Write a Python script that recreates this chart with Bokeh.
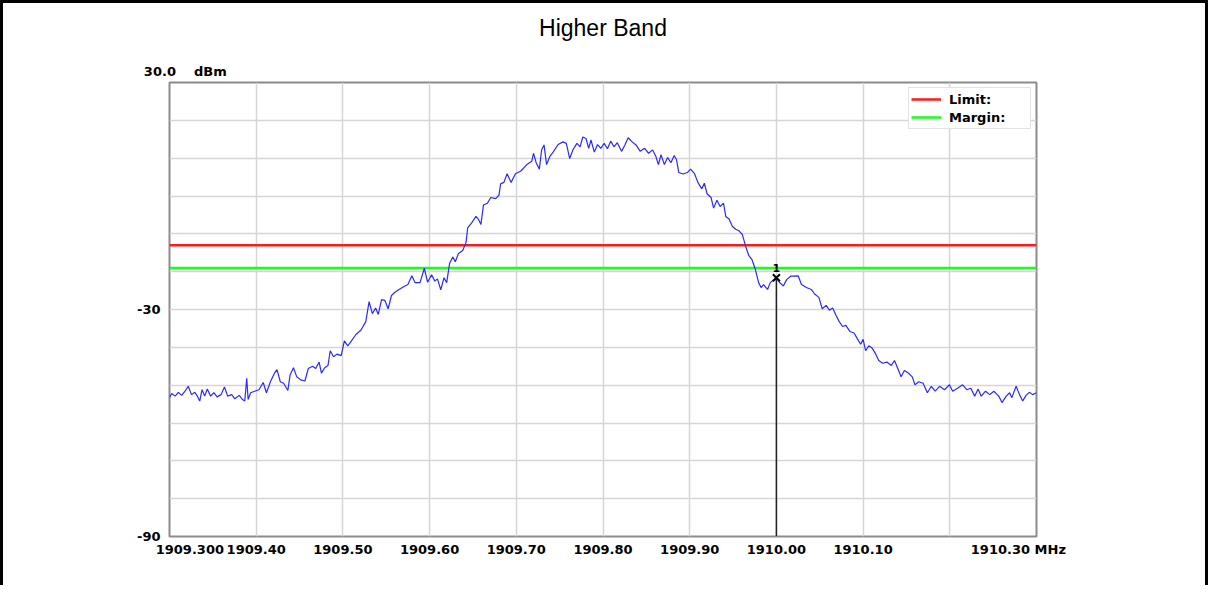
from bokeh.plotting import figure
from bokeh.models import FixedTicker, Legend, LegendItem, Range1d, LinearAxis
from bokeh.embed import file_html
from bokeh.resources import INLINE
from bokeh.core.properties import value

# ---------------- data ----------------
title_text = "Higher Band"

freq_mhz = [
    1909.3000, 1909.3026, 1909.3065, 1909.3102, 1909.3140, 1909.3179, 1909.3216, 1909.3254,
    1909.3292, 1909.3322, 1909.3349, 1909.3375, 1909.3406, 1909.3436, 1909.3474, 1909.3512,
    1909.3549, 1909.3595, 1909.3634, 1909.3671, 1909.3717, 1909.3754, 1909.3804, 1909.3842,
    1909.3868, 1909.3891, 1909.3907, 1909.3936, 1909.3982, 1909.4032, 1909.4081, 1909.4118,
    1909.4164, 1909.4209, 1909.4240, 1909.4278, 1909.4316, 1909.4365, 1909.4391, 1909.4430,
    1909.4468, 1909.4513, 1909.4562, 1909.4601, 1909.4650, 1909.4687, 1909.4726, 1909.4752,
    1909.4790, 1909.4828, 1909.4854, 1909.4892, 1909.4931, 1909.4980, 1909.5017, 1909.5056,
    1909.5093, 1909.5150, 1909.5207, 1909.5264, 1909.5302, 1909.5340, 1909.5378, 1909.5408,
    1909.5446, 1909.5484, 1909.5522, 1909.5560, 1909.5597, 1909.5643, 1909.5700, 1909.5750,
    1909.5795, 1909.5833, 1909.5890, 1909.5939, 1909.5977, 1909.6023, 1909.6060, 1909.6091,
    1909.6129, 1909.6166, 1909.6197, 1909.6231, 1909.6268, 1909.6296, 1909.6333, 1909.6382,
    1909.6421, 1909.6439, 1909.6485, 1909.6535, 1909.6561, 1909.6592, 1909.6621, 1909.6667,
    1909.6705, 1909.6762, 1909.6800, 1909.6819, 1909.6857, 1909.6894, 1909.6940, 1909.6990,
    1909.7053, 1909.7122, 1909.7179, 1909.7198, 1909.7229, 1909.7266, 1909.7292, 1909.7320,
    1909.7349, 1909.7388, 1909.7425, 1909.7482, 1909.7539, 1909.7577, 1909.7616, 1909.7653,
    1909.7699, 1909.7736, 1909.7767, 1909.7804, 1909.7835, 1909.7861, 1909.7900, 1909.7937,
    1909.7975, 1909.8014, 1909.8051, 1909.8089, 1909.8127, 1909.8165, 1909.8214, 1909.8253,
    1909.8290, 1909.8336, 1909.8381, 1909.8430, 1909.8480, 1909.8526, 1909.8571, 1909.8609,
    1909.8639, 1909.8669, 1909.8708, 1909.8745, 1909.8783, 1909.8821, 1909.8848, 1909.8874,
    1909.8924, 1909.8973, 1909.9010, 1909.9056, 1909.9094, 1909.9140, 1909.9169, 1909.9200,
    1909.9246, 1909.9276, 1909.9314, 1909.9351, 1909.9390, 1909.9416, 1909.9454, 1909.9492,
    1909.9530, 1909.9568, 1909.9606, 1909.9644, 1909.9681, 1909.9720, 1909.9758, 1909.9795,
    1909.9823, 1909.9852, 1909.9898, 1909.9929, 1909.9966, 1910.0000, 1910.0034, 1910.0080,
    1910.0118, 1910.0164, 1910.0202, 1910.0251, 1910.0289, 1910.0346, 1910.0403, 1910.0441,
    1910.0490, 1910.0528, 1910.0574, 1910.0611, 1910.0649, 1910.0687, 1910.0725, 1910.0763,
    1910.0801, 1910.0847, 1910.0896, 1910.0933, 1910.0972, 1910.1000, 1910.1029, 1910.1066,
    1910.1104, 1910.1142, 1910.1180, 1910.1226, 1910.1274, 1910.1325, 1910.1362, 1910.1400,
    1910.1438, 1910.1476, 1910.1521, 1910.1567, 1910.1598, 1910.1643, 1910.1692, 1910.1741,
    1910.1787, 1910.1832, 1910.1882, 1910.1939, 1910.1996, 1910.2033, 1910.2090, 1910.2147,
    1910.2196, 1910.2242, 1910.2287, 1910.2326, 1910.2363, 1910.2412, 1910.2462, 1910.2508,
    1910.2565, 1910.2602, 1910.2651, 1910.2690, 1910.2716, 1910.2765, 1910.2804, 1910.2841,
    1910.2879, 1910.2917, 1910.2955, 1910.3000,
]

level_dbm = [
    -53.3, -52.2, -52.9, -51.9, -52.7, -51.6, -50.3, -52.5,
    -51.9, -52.9, -54.2, -51.2, -52.9, -51.0, -52.9, -52.0,
    -53.1, -52.5, -50.5, -52.9, -52.5, -53.6, -52.7, -53.8,
    -54.2, -48.2, -53.8, -52.0, -51.6, -51.2, -49.3, -52.0,
    -49.1, -46.9, -45.9, -49.1, -49.5, -51.4, -47.3, -45.4,
    -47.8, -48.6, -48.9, -45.6, -45.0, -45.6, -43.9, -46.8,
    -45.4, -44.8, -40.9, -42.5, -41.8, -42.2, -38.3, -39.6,
    -38.5, -36.6, -35.5, -33.2, -27.9, -31.1, -29.6, -31.3,
    -27.4, -27.6, -29.8, -26.3, -25.5, -24.8, -24.0, -23.4,
    -21.1, -22.9, -22.9, -19.1, -22.8, -20.8, -22.5, -21.9,
    -24.8, -21.6, -22.9, -17.8, -16.1, -17.4, -15.2, -14.4,
    -12.2, -8.4, -7.1, -5.4, -6.1, -7.5, -2.4, -1.9,
    -0.4, -0.7, 0.2, 3.2, 3.6, 5.9, 3.6, 5.9,
    6.6, 8.3, 9.2, 11.3, 8.8, 7.1, 12.2, 13.5,
    8.3, 10.5, 11.6, 13.6, 14.3, 13.9, 9.9, 12.2,
    13.9, 13.0, 15.6, 15.2, 12.6, 14.8, 11.6, 13.6,
    12.6, 13.9, 12.5, 14.5, 13.0, 14.1, 11.8, 13.5,
    15.4, 14.3, 13.5, 11.8, 12.6, 11.3, 12.2, 10.5,
    8.3, 10.9, 8.3, 10.2, 8.8, 10.7, 9.6, 6.2,
    5.8, 6.2, 7.1, 5.9, 3.6, 1.9, 3.4, 0.6,
    -0.4, -3.2, -1.1, -2.8, -1.9, -5.4, -6.1, -8.0,
    -8.8, -9.2, -10.1, -13.2, -15.7, -16.9, -19.5, -22.9,
    -24.2, -23.4, -24.7, -22.9, -22.2, -21.6, -22.8, -23.8,
    -22.1, -21.2, -21.2, -21.1, -23.4, -24.2, -24.7, -25.9,
    -26.8, -29.8, -28.9, -30.2, -29.6, -31.5, -33.2, -34.5,
    -34.2, -35.8, -36.2, -37.7, -39.2, -37.9, -40.9, -39.6,
    -40.2, -41.6, -43.5, -44.2, -43.9, -44.8, -43.5, -45.6,
    -47.8, -46.1, -46.8, -47.8, -49.9, -49.1, -49.5, -52.0,
    -50.3, -51.6, -50.3, -51.2, -49.9, -51.6, -50.8, -49.9,
    -51.2, -50.8, -52.9, -51.0, -52.9, -51.6, -52.5, -51.6,
    -52.9, -54.6, -52.9, -52.0, -53.3, -50.3, -52.5, -54.2,
    -52.7, -51.9, -52.5, -52.0,
]

limit_dbm = -13.0
margin_dbm = -19.0
legend_labels = ["Limit:", "Margin:"]

marker_freq = [1910.00]
marker_level = [-21.6]
marker_text = ["1"]

x_min, x_max = 1909.3, 1910.3
y_min, y_max = -90, 30

NB = "\u00a0"
x_ticks = [1909.3, 1909.4, 1909.5, 1909.6, 1909.7, 1909.8, 1909.9, 1910.0, 1910.1, 1910.2, 1910.3]
x_tick_labels = [NB * 9 + "1909.300", "1909.40", "1909.50", "1909.60", "1909.70", "1909.80",
                 "1909.90", "1910.00", "1910.10", "", "1910.30 MHz" + NB * 8]
y_ticks = [30, 20, 10, 0, -10, -20, -30, -40, -50, -60, -70, -80, -90]
y_tick_labels = ["", "", "", "", "", "", "-30", "", "", "", "", "", "-90"]
y_top_text = NB * 7 + "30.0" + NB * 4 + "dBm"

# ---------------- figure ----------------
FONT = "DejaVu Sans"

p = figure(width=1208, height=585, output_backend="svg", toolbar_location=None,
           x_range=Range1d(x_min, x_max), y_range=Range1d(y_min, y_max),
           min_border_left=166, min_border_right=175, min_border_top=79, min_border_bottom=52,
           background_fill_color="white", border_fill_color="white")

p.styles = {"border-top": "3px solid black", "border-left": "3px solid black",
            "border-right": "3px solid black"}

p.outline_line_color = "#8c8c8c"
p.outline_line_width = 2

# axes (grab the default ones before adding the top axis)
bottom_axis = p.below[0]
left_axis = p.left[0]

bottom_axis.ticker = FixedTicker(ticks=x_ticks)
bottom_axis.major_label_overrides = dict(zip(x_ticks, x_tick_labels))
left_axis.ticker = FixedTicker(ticks=y_ticks)
left_axis.major_label_overrides = dict(zip(y_ticks, y_tick_labels))

top_axis = LinearAxis(ticker=FixedTicker(ticks=[x_min]),
                      major_label_overrides={x_min: y_top_text},
                      axis_label=title_text)
p.add_layout(top_axis, "above")

for ax in (bottom_axis, left_axis, top_axis):
    ax.axis_line_color = None
    ax.major_tick_line_color = None
    ax.minor_tick_line_color = None
    ax.major_tick_out = 0
    ax.major_tick_in = 0
    ax.minor_tick_out = 0
    ax.minor_tick_in = 0
    ax.major_label_text_font = FONT
    ax.major_label_text_font_style = "bold"
    ax.major_label_text_font_size = "13px"
    ax.major_label_text_color = "black"
bottom_axis.major_label_standoff = 5
left_axis.major_label_standoff = 9
top_axis.major_label_standoff = 4
top_axis.axis_label_standoff = 20
top_axis.axis_label_text_font = "Liberation Sans"
top_axis.axis_label_text_font_style = "normal"
top_axis.axis_label_text_font_size = "23px"
top_axis.axis_label_text_color = "black"

p.xgrid.grid_line_color = "#d6d6d6"
p.ygrid.grid_line_color = "#d6d6d6"
p.xgrid.grid_line_width = 1.5
p.ygrid.grid_line_width = 1.5

# limit / margin
limit_r = p.line(x=[x_min, x_max], y=[limit_dbm, limit_dbm], line_color="#ff1a1a", line_width=2.5)
margin_r = p.line(x=[x_min, x_max], y=[margin_dbm, margin_dbm], line_color="#1aff1a", line_width=2.5)

# trace
p.line(freq_mhz, level_dbm, line_color="#2a2aff", line_width=1.2)

# marker
p.segment(x0=marker_freq, y0=marker_level, x1=marker_freq, y1=[y_min], line_color="#222222", line_width=1.5)
p.scatter(marker_freq, marker_level, marker="x", size=10, line_color="black", line_width=2)
p.text(x=marker_freq, y=marker_level, text=marker_text, text_font=value(FONT), text_font_style="bold",
       text_font_size="11px", text_align="center", text_baseline="bottom", y_offset=-6, text_color="black")

legend = Legend(items=[LegendItem(label=legend_labels[0], renderers=[limit_r]),
                       LegendItem(label=legend_labels[1], renderers=[margin_r])],
                location="top_right")
legend.margin = 5
legend.padding = 2
legend.spacing = 0
legend.glyph_width = 30
legend.glyph_height = 18
legend.label_height = 18
legend.label_standoff = 8
legend.label_width = 79
legend.label_text_font = FONT
legend.label_text_font_style = "bold"
legend.label_text_font_size = "13px"
legend.label_text_color = "black"
legend.border_line_color = "#c8c8c8"
legend.border_line_width = 1
legend.background_fill_color = "white"
legend.background_fill_alpha = 1.0
p.add_layout(legend)

open("out.html", "w").write(file_html(p, INLINE))
